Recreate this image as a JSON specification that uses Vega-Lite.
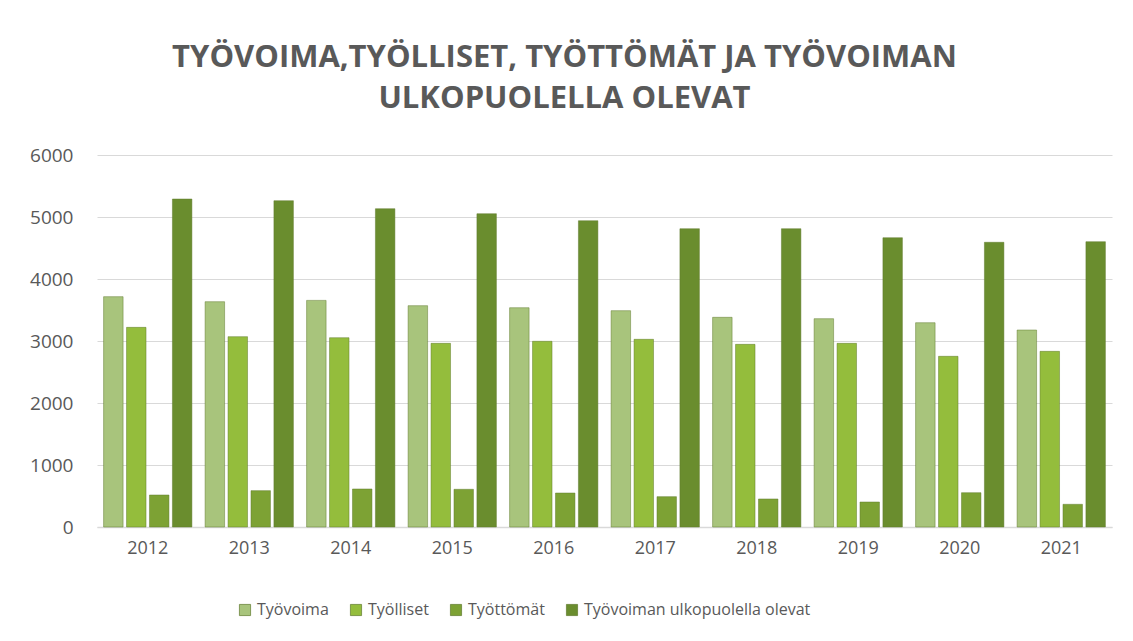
{
  "$schema": "https://vega.github.io/schema/vega-lite/v6.json",
  "width": 1015,
  "height": 372,
  "autosize": {"type": "none"},
  "padding": {"left": 97, "top": 155, "right": 21, "bottom": 114},
  "background": "white",
  "title": {
    "text": ["TYÖVOIMA,TYÖLLISET, TYÖTTÖMÄT JA TYÖVOIMAN", "ULKOPUOLELLA OLEVAT"],
    "font": "Open Sans",
    "fontSize": 31,
    "fontWeight": "bold",
    "color": "#595959",
    "lineHeight": 41,
    "anchor": "middle",
    "dx": -40,
    "offset": 31
  },
  "data": {
    "values": [
      {"vuosi": "2012", "sarja": "Työvoima", "arvo": 3715},
      {"vuosi": "2012", "sarja": "Työlliset", "arvo": 3220},
      {"vuosi": "2012", "sarja": "Työttömät", "arvo": 516},
      {"vuosi": "2012", "sarja": "Työvoiman ulkopuolella olevat", "arvo": 5290},
      {"vuosi": "2013", "sarja": "Työvoima", "arvo": 3634},
      {"vuosi": "2013", "sarja": "Työlliset", "arvo": 3070},
      {"vuosi": "2013", "sarja": "Työttömät", "arvo": 586},
      {"vuosi": "2013", "sarja": "Työvoiman ulkopuolella olevat", "arvo": 5263},
      {"vuosi": "2014", "sarja": "Työvoima", "arvo": 3655},
      {"vuosi": "2014", "sarja": "Työlliset", "arvo": 3053},
      {"vuosi": "2014", "sarja": "Työttömät", "arvo": 613},
      {"vuosi": "2014", "sarja": "Työvoiman ulkopuolella olevat", "arvo": 5134},
      {"vuosi": "2015", "sarja": "Työvoima", "arvo": 3570},
      {"vuosi": "2015", "sarja": "Työlliset", "arvo": 2962},
      {"vuosi": "2015", "sarja": "Työttömät", "arvo": 608},
      {"vuosi": "2015", "sarja": "Työvoiman ulkopuolella olevat", "arvo": 5053},
      {"vuosi": "2016", "sarja": "Työvoima", "arvo": 3537},
      {"vuosi": "2016", "sarja": "Työlliset", "arvo": 2995},
      {"vuosi": "2016", "sarja": "Työttömät", "arvo": 548},
      {"vuosi": "2016", "sarja": "Työvoiman ulkopuolella olevat", "arvo": 4940},
      {"vuosi": "2017", "sarja": "Työvoima", "arvo": 3489},
      {"vuosi": "2017", "sarja": "Työlliset", "arvo": 3027},
      {"vuosi": "2017", "sarja": "Työttömät", "arvo": 489},
      {"vuosi": "2017", "sarja": "Työvoiman ulkopuolella olevat", "arvo": 4811},
      {"vuosi": "2018", "sarja": "Työvoima", "arvo": 3382},
      {"vuosi": "2018", "sarja": "Työlliset", "arvo": 2946},
      {"vuosi": "2018", "sarja": "Työttömät", "arvo": 452},
      {"vuosi": "2018", "sarja": "Työvoiman ulkopuolella olevat", "arvo": 4811},
      {"vuosi": "2019", "sarja": "Työvoima", "arvo": 3360},
      {"vuosi": "2019", "sarja": "Työlliset", "arvo": 2962},
      {"vuosi": "2019", "sarja": "Työttömät", "arvo": 403},
      {"vuosi": "2019", "sarja": "Työvoiman ulkopuolella olevat", "arvo": 4666},
      {"vuosi": "2020", "sarja": "Työvoima", "arvo": 3295},
      {"vuosi": "2020", "sarja": "Työlliset", "arvo": 2753},
      {"vuosi": "2020", "sarja": "Työttömät", "arvo": 553},
      {"vuosi": "2020", "sarja": "Työvoiman ulkopuolella olevat", "arvo": 4592},
      {"vuosi": "2021", "sarja": "Työvoima", "arvo": 3177},
      {"vuosi": "2021", "sarja": "Työlliset", "arvo": 2833},
      {"vuosi": "2021", "sarja": "Työttömät", "arvo": 366},
      {"vuosi": "2021", "sarja": "Työvoiman ulkopuolella olevat", "arvo": 4602}
    ]
  },
  "mark": {"type": "bar", "stroke": "#5f7a2c", "strokeWidth": 0.7, "strokeOpacity": 0.7},
  "encoding": {
    "x": {
      "field": "vuosi",
      "type": "nominal",
      "scale": {"paddingInner": 0.13, "paddingOuter": 0.065},
      "axis": {
        "title": null,
        "labelAngle": 0,
        "labelFont": "Open Sans",
        "labelFontSize": 18,
        "labelColor": "#595959",
        "labelPadding": 12,
        "ticks": false,
        "domainColor": "#d9d9d9",
        "domainWidth": 1.5
      }
    },
    "xOffset": {
      "field": "sarja",
      "type": "nominal",
      "sort": ["Työvoima", "Työlliset", "Työttömät", "Työvoiman ulkopuolella olevat"],
      "scale": {"paddingInner": 0.15}
    },
    "y": {
      "field": "arvo",
      "type": "quantitative",
      "scale": {"domain": [0, 6000]},
      "axis": {
        "title": null,
        "values": [0, 1000, 2000, 3000, 4000, 5000, 6000],
        "format": "d",
        "labelFont": "Open Sans",
        "labelFontSize": 19,
        "labelColor": "#595959",
        "labelPadding": 24,
        "ticks": false,
        "domain": false,
        "gridColor": "#d9d9d9",
        "gridWidth": 1.2
      }
    },
    "color": {
      "field": "sarja",
      "type": "nominal",
      "sort": ["Työvoima", "Työlliset", "Työttömät", "Työvoiman ulkopuolella olevat"],
      "scale": {
        "domain": ["Työvoima", "Työlliset", "Työttömät", "Työvoiman ulkopuolella olevat"],
        "range": ["#a8c47c", "#94bd3c", "#7da234", "#6a8d2e"]
      },
      "legend": {
        "title": null,
        "orient": "none",
        "legendX": 140,
        "legendY": 447,
        "direction": "horizontal",
        "symbolType": "square",
        "symbolSize": 125,
        "symbolStrokeColor": "#5f7a2c",
        "symbolStrokeWidth": 0.7,
        "labelFont": "Open Sans",
        "labelFontSize": 16,
        "labelColor": "#595959",
        "labelLimit": 400,
        "columnPadding": 19,
        "labelOffset": 4,
        "padding": 0
      }
    }
  },
  "config": {
    "view": {"stroke": null}
  }
}
